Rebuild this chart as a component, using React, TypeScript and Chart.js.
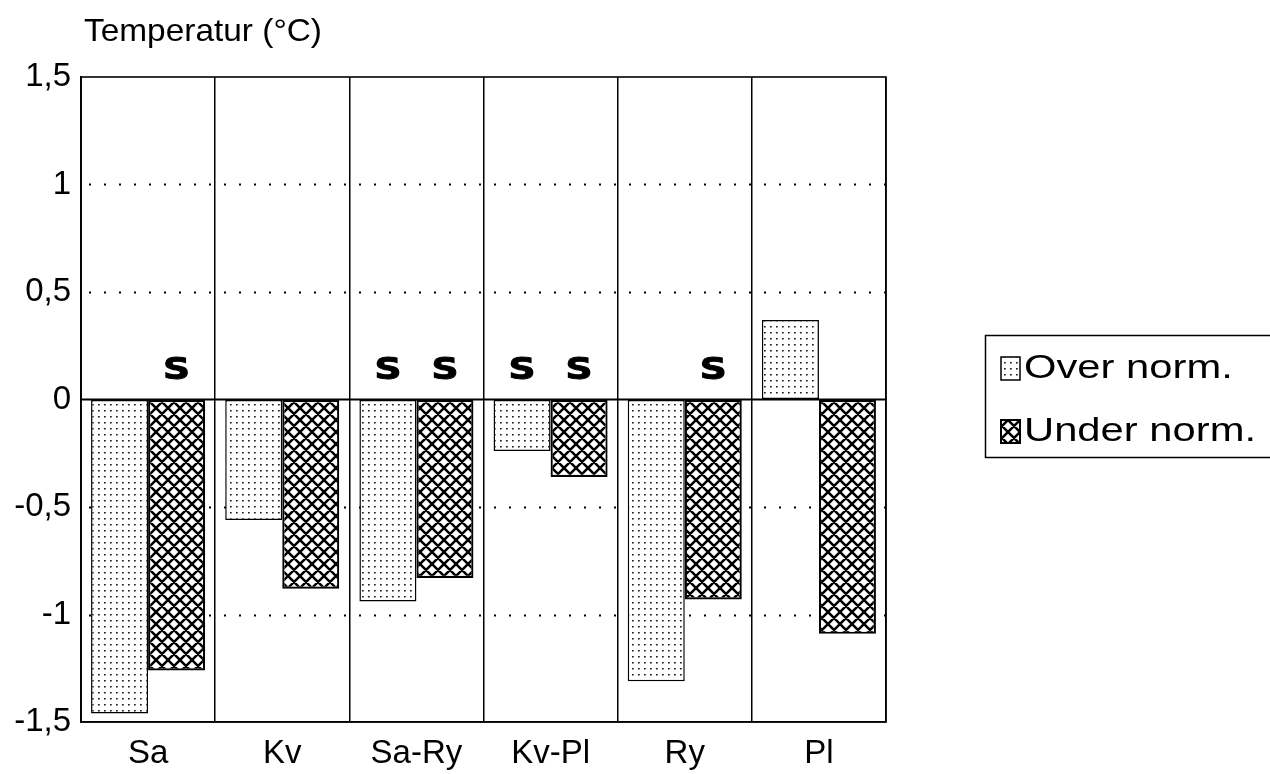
import React, { useEffect, useRef } from "react";
import { Chart, registerables } from "chart.js";

Chart.register(...registerables);

// ---- data ----
const categories = ["Sa", "Kv", "Sa-Ry", "Kv-Pl", "Ry", "Pl"];
const seriesLabels = ["Over norm.", "Under norm."];
const overNorm = [-1.46, -0.56, -0.94, -0.24, -1.31, 0.37];
const underNorm = [-1.26, -0.88, -0.83, -0.36, -0.93, -1.09];
const overSignificant = [false, false, true, true, false, false];
const underSignificant = [true, false, true, true, true, false];
const yTickValues = [-1.5, -1, -0.5, 0, 0.5, 1, 1.5];
const yTickLabels = ["-1,5", "-1", "-0,5", "0", "0,5", "1", "1,5"];
const dottedGridValues = [1, 0.5, -0.5, -1];
const yAxisTitle = "Temperatur (°C)";
const significanceMark = "S";

const FONT = "'Liberation Sans', Arial, Helvetica, sans-serif";
const BOLD_FONT = "'DejaVu Sans', 'Liberation Sans', Arial, sans-serif";

function makeDotPattern(ctx: CanvasRenderingContext2D) {
  const c = document.createElement("canvas");
  c.width = 6;
  c.height = 6;
  const g = c.getContext("2d")!;
  g.fillStyle = "#ffffff";
  g.fillRect(0, 0, 6, 6);
  g.fillStyle = "#1a1a1a";
  g.fillRect(2, 2, 1.7, 1.5);
  return ctx.createPattern(c, "repeat")!;
}

function makeHatchPattern(ctx: CanvasRenderingContext2D) {
  const s = 12;
  const c = document.createElement("canvas");
  c.width = s;
  c.height = s;
  const g = c.getContext("2d")!;
  g.fillStyle = "#ffffff";
  g.fillRect(0, 0, s, s);
  g.strokeStyle = "#000000";
  g.lineWidth = 2.5;
  g.beginPath();
  for (const k of [-s, 0, s]) {
    g.moveTo(k - 2, -2);
    g.lineTo(k + s + 2, s + 2);
    g.moveTo(k + s + 2, -2);
    g.lineTo(k - 2, s + 2);
  }
  g.stroke();
  return ctx.createPattern(c, "repeat")!;
}

export default function App() {
  const ref = useRef<HTMLCanvasElement | null>(null);

  useEffect(() => {
    const canvas = ref.current!;
    const ctx0 = canvas.getContext("2d")!;
    const dots = makeDotPattern(ctx0);
    const hatch = makeHatchPattern(ctx0);

    const decor = {
      id: "decor",
      beforeDatasetsDraw(chart: any) {
        const { ctx, chartArea: a, scales } = chart;
        const y = scales.y;
        ctx.save();
        ctx.strokeStyle = "#000";
        ctx.lineWidth = 2;
        ctx.setLineDash([2, 13]);
        ctx.lineDashOffset = -8;
        dottedGridValues.forEach((v) => {
          const py = Math.round(y.getPixelForValue(v)) + 0.5;
          ctx.beginPath();
          ctx.moveTo(a.left, py);
          ctx.lineTo(a.right, py);
          ctx.stroke();
        });
        ctx.restore();
      },
      afterDatasetsDraw(chart: any) {
        const { ctx, chartArea: a, scales } = chart;
        const y = scales.y;
        const y0 = y.getPixelForValue(0);
        ctx.save();
        ctx.strokeStyle = "#000";
        ctx.lineWidth = 2.2;
        ctx.beginPath();
        ctx.moveTo(a.left, y0);
        ctx.lineTo(a.right, y0);
        ctx.stroke();
        ctx.lineWidth = 1.6;
        ctx.strokeRect(a.left, a.top, a.right - a.left, a.bottom - a.top);

        // significance marks
        ctx.fillStyle = "#000";
        ctx.textAlign = "center";
        ctx.textBaseline = "alphabetic";
        ctx.font = `bold 30px ${BOLD_FONT}`;
        [overSignificant, underSignificant].forEach((flags, di) => {
          const meta = chart.getDatasetMeta(di);
          flags.forEach((f, i) => {
            if (!f) return;
            const bar = meta.data[i];
            ctx.save();
            ctx.translate(bar.x, y0 - 21);
            ctx.scale(1.25, 1);
            ctx.fillText(significanceMark, 0, 0);
            ctx.strokeStyle = "#000";
            ctx.lineWidth = 1;
            ctx.strokeText(significanceMark, 0, 0);
            ctx.restore();
          });
        });
        ctx.restore();
      },
      afterDraw(chart: any) {
        const { ctx, chartArea: a } = chart;
        ctx.save();
        ctx.fillStyle = "#000";
        // axis title
        ctx.font = `32px ${FONT}`;
        ctx.textAlign = "left";
        ctx.textBaseline = "alphabetic";
        const tw = ctx.measureText(yAxisTitle).width;
        ctx.save();
        ctx.translate(a.left + 3, 41);
        ctx.scale(238 / tw, 1);
        ctx.fillText(yAxisTitle, 0, 0);
        ctx.restore();

        // legend
        const lx = 985.5;
        const ly = 335.5;
        ctx.strokeStyle = "#000";
        ctx.lineWidth = 1.5;
        ctx.strokeRect(lx, ly, 320, 122);
        const items = [
          { fill: dots, text: seriesLabels[0], y: 368, lw: 1.5 },
          { fill: hatch, text: seriesLabels[1], y: 431, lw: 2 },
        ];
        ctx.font = `34px ${FONT}`;
        const target = 1256 - 1024;
        const sx = target / ctx.measureText(seriesLabels[1]).width;
        items.forEach((it) => {
          ctx.fillStyle = it.fill;
          ctx.fillRect(1001, it.y - 11, 19, 23);
          ctx.lineWidth = it.lw;
          ctx.strokeRect(1001, it.y - 11, 19, 23);
          ctx.fillStyle = "#000";
          ctx.textBaseline = "middle";
          ctx.save();
          ctx.translate(1024, it.y + 1);
          ctx.scale(sx, 1);
          ctx.fillText(it.text, 0, 0);
          ctx.restore();
        });
        ctx.restore();
      },
    };

    const chart = new Chart(canvas, {
      type: "bar",
      data: {
        labels: categories,
        datasets: [
          {
            label: seriesLabels[0],
            data: overNorm,
            backgroundColor: dots,
            borderColor: "#000",
            borderWidth: 1.5,
            borderSkipped: false,
          },
          {
            label: seriesLabels[1],
            data: underNorm,
            backgroundColor: hatch,
            borderColor: "#000",
            borderWidth: 2.2,
            borderSkipped: false,
          },
        ],
      },
      options: {
        animation: false,
        responsive: true,
        maintainAspectRatio: false,
        layout: { padding: { left: 0, top: 77, right: 384, bottom: 0 } },
        datasets: { bar: { barPercentage: 1, categoryPercentage: 0.85 } },
        plugins: {
          legend: { display: false },
          tooltip: { enabled: false },
          title: { display: false },
        },
        scales: {
          x: {
            grid: { offset: true, color: "#000", lineWidth: 1.5, drawTicks: false },
            border: { display: true, color: "#000", width: 1.5 },
            ticks: { color: "#000", font: { family: FONT, size: 33 }, padding: 12 },
            afterFit: (s: any) => {
              s.height = 52;
            },
          },
          y: {
            min: -1.5,
            max: 1.5,
            afterBuildTicks: (s: any) => {
              s.ticks = yTickValues.map((v) => ({ value: v }));
            },
            ticks: {
              color: "#000",
              font: { family: FONT, size: 33 },
              padding: 10,
              callback: (v: any) => {
                const i = yTickValues.indexOf(Number(v));
                return i >= 0 ? yTickLabels[i] : "";
              },
            },
            grid: {
              drawTicks: false,
              color: "rgba(0,0,0,0)",
            },
            border: { display: true, color: "#000", width: 1.5 },
            afterFit: (s: any) => {
              s.width = 81;
            },
          },
        },
      },
      plugins: [decor],
    } as any);

    return () => chart.destroy();
  }, []);

  return (
    <div style={{ position: "absolute", left: 0, top: 0, width: 1270, height: 774, background: "#fff" }}>
      <canvas ref={ref} />
    </div>
  );
}
